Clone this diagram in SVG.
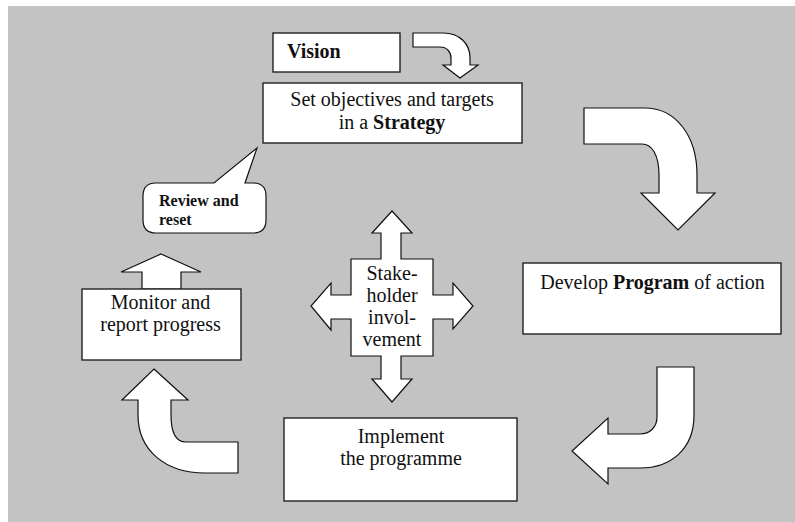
<svg xmlns="http://www.w3.org/2000/svg" width="795" height="522" viewBox="0 0 795 522">
<style>
.bx{fill:#fff;stroke:#222;stroke-width:1.4}
.ar{fill:#fff;stroke:#111;stroke-width:1.2;stroke-linejoin:miter}
.t{font-family:"Liberation Serif","DejaVu Serif","Times New Roman",serif;font-size:20px;fill:#111}
.c{text-anchor:middle}
.b{font-weight:bold}
</style>
<rect x="0" y="0" width="795" height="522" fill="#fff"/>
<rect x="8" y="6" width="787" height="516" fill="#c3c3c3"/>
<g id="connectors">
<path class="ar" d="M413,33 L443,33 C460,33 470,44 470,58 L470,65 L478,65 L460,78 L443,65 L451,65 L451,58 C451,52 447,47 440,47 L413,47 Z"/>
<path class="ar" d="M584,108 L645,108 C675,108 697,135 697,175 L697,193 L715,193 L678,230 L641,193 L659,193 L659,175 C659,155 652,144 642,144 L584,144 Z"/>
<path class="ar" d="M657,367 L694,367 L694,415 C694,450 670,468 640,468 L608,468 L608,484 L572,451 L608,418 L608,434 L640,434 C650,434 657,427 657,417 Z"/>
<path class="ar" d="M154,369 L188,400 L171,400 L171,415 C171,432 176,442 186,442 L238,442 L238,473 L205,473 C165,473 138,450 138,415 L138,400 L122,400 Z"/>
<path class="ar" d="M161,254 L201,272 L181,272 L181,289 L142,289 L142,272 L121,272 Z"/>
</g>
<g id="vision">
<rect class="bx" x="273" y="33" width="127" height="39"/>
<text class="t b" font-family="Liberation Serif, serif" x="287" y="58">Vision</text>
</g>
<g id="strategy">
<rect class="bx" x="263" y="83" width="259" height="60"/>
<text class="t c" font-family="Liberation Serif, serif" x="392" y="106">Set objectives and targets</text>
<text class="t c" font-family="Liberation Serif, serif" x="392" y="129">in a <tspan class="b">Strategy</tspan></text>
</g>
<g id="review">
<path class="ar" d="M156,183 L214,183 L257,148 L245,183 L253,183 Q266,183 266,196 L266,220 Q266,233 253,233 L156,233 Q143,233 143,220 L143,196 Q143,183 156,183 Z"/>
<text class="t b" font-family="Liberation Serif, serif" x="159" y="206" style="font-size:16px">Review and</text>
<text class="t b" font-family="Liberation Serif, serif" x="159" y="225" style="font-size:16px">reset</text>
</g>
<g id="program">
<rect class="bx" x="523" y="263" width="258" height="71"/>
<text class="t c" font-family="Liberation Serif, serif" x="652.5" y="289">Develop <tspan class="b">Program</tspan> of action</text>
</g>
<g id="stakeholder">
<path class="ar" d="M392,211 L412,233 L401,233 L401,259 L433,259 L433,295 L453,295 L453,283 L473,306 L453,329 L453,319 L433,319 L433,356 L401,356 L401,379 L412,379 L392,402 L372,379 L381,379 L381,356 L351,356 L351,319 L331,319 L331,330 L311,306 L331,283 L331,295 L351,295 L351,259 L381,259 L381,233 L372,233 Z"/>
<text class="t c" font-family="Liberation Serif, serif" x="392" y="280">Stake-</text>
<text class="t c" font-family="Liberation Serif, serif" x="392" y="302">holder</text>
<text class="t c" font-family="Liberation Serif, serif" x="392" y="324">invol-</text>
<text class="t c" font-family="Liberation Serif, serif" x="392" y="346">vement</text>
</g>
<g id="monitor">
<rect class="bx" x="82" y="289" width="159" height="71"/>
<text class="t c" font-family="Liberation Serif, serif" x="160.5" y="309">Monitor and</text>
<text class="t c" font-family="Liberation Serif, serif" x="160.5" y="331">report progress</text>
</g>
<g id="implement">
<rect class="bx" x="284" y="418" width="233" height="83"/>
<text class="t c" font-family="Liberation Serif, serif" x="401" y="443">Implement</text>
<text class="t c" font-family="Liberation Serif, serif" x="401" y="465">the programme</text>
</g>
</svg>
